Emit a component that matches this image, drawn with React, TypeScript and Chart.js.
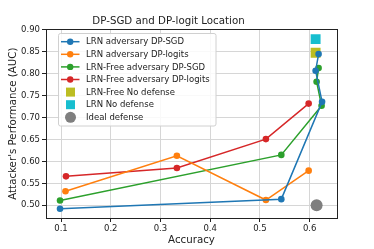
import React, { useEffect, useRef } from "react";
import { Chart, registerables } from "chart.js";

Chart.register(...registerables);

const lrnSgdX = [0.098, 0.543, 0.625, 0.612, 0.618];
const lrnSgdY = [0.492, 0.514, 0.736, 0.807, 0.845];
const lrnLogitsX = [0.109, 0.333, 0.512, 0.598];
const lrnLogitsY = [0.532, 0.613, 0.512, 0.579];
const freeSgdX = [0.098, 0.543, 0.624, 0.614, 0.618];
const freeSgdY = [0.511, 0.615, 0.727, 0.782, 0.813];
const freeLogitsX = [0.110, 0.333, 0.512, 0.598];
const freeLogitsY = [0.566, 0.585, 0.651, 0.732];
const freeNoDefX = [0.612];
const freeNoDefY = [0.848];
const lrnNoDefX = [0.612];
const lrnNoDefY = [0.879];
const idealX = [0.614];
const idealY = [0.5];

const xTicks = [0.1, 0.2, 0.3, 0.4, 0.5, 0.6];
const yTicks = [0.5, 0.55, 0.6, 0.65, 0.7, 0.75, 0.8, 0.85, 0.9];

const seriesNames = [
  "LRN adversary DP-SGD",
  "LRN adversary DP-logits",
  "LRN-Free adversary DP-SGD",
  "LRN-Free adversary DP-logits",
  "LRN-Free No defense",
  "LRN No defense",
  "Ideal defense",
];

const colors = ["#1f77b4", "#ff7f0e", "#2ca02c", "#d62728", "#bcbd22", "#17becf", "#7f7f7f"];

const FONT = "'DejaVu Sans', sans-serif";

const pts = (xs: number[], ys: number[]) => xs.map((x, i) => ({ x, y: ys[i] }));

const framePlugin = {
  id: "frame",
  afterDraw(chart: any) {
    const { ctx, chartArea: a } = chart;
    ctx.save();
    ctx.strokeStyle = "#222";
    ctx.lineWidth = 1;
    ctx.strokeRect(Math.round(a.left) + 0.5, Math.round(a.top) + 0.5, Math.round(a.right - a.left), Math.round(a.bottom - a.top));
    // legend
    const lx = 58.5, ly = 33.5, lw = 157.5, lh = 92.5;
    ctx.fillStyle = "rgba(255,255,255,0.85)";
    ctx.strokeStyle = "#d0d0d0";
    ctx.beginPath();
    ctx.roundRect(lx, ly, lw, lh, 2);
    ctx.fill();
    ctx.stroke();
    ctx.font = `8.5px ${FONT}`;
    ctx.textBaseline = "middle";
    ctx.textAlign = "left";
    seriesNames.forEach((name, i) => {
      const cy = 41.7 + i * 12.6;
      const c = colors[i];
      if (i < 4) {
        ctx.strokeStyle = c;
        ctx.lineWidth = 1.5;
        ctx.beginPath();
        ctx.moveTo(61, cy);
        ctx.lineTo(79.5, cy);
        ctx.stroke();
        ctx.fillStyle = c;
        ctx.beginPath();
        ctx.arc(70.2, cy, 3.2, 0, Math.PI * 2);
        ctx.fill();
      } else if (i < 6) {
        ctx.fillStyle = c;
        ctx.fillRect(66, cy - 4.5, 9, 9);
      } else {
        ctx.fillStyle = c;
        ctx.beginPath();
        ctx.arc(70.5, cy, 5.5, 0, Math.PI * 2);
        ctx.fill();
      }
      ctx.fillStyle = "#222";
      ctx.fillText(name, 86, cy + 0.5);
    });
    ctx.restore();
  },
};

export default function App() {
  const ref = useRef<HTMLCanvasElement>(null);
  useEffect(() => {
    if (!ref.current) return;
    const lineDs = (i: number, data: any[]) => ({
      label: seriesNames[i],
      data,
      showLine: true,
      borderColor: colors[i],
      backgroundColor: colors[i],
      borderWidth: 1.5,
      pointRadius: 3.3,
      pointBorderWidth: 0,
      pointStyle: "circle",
    });
    const chart = new Chart(ref.current, {
      type: "scatter",
      data: {
        datasets: [
          lineDs(0, pts(lrnSgdX, lrnSgdY)),
          lineDs(1, pts(lrnLogitsX, lrnLogitsY)),
          lineDs(2, pts(freeSgdX, freeSgdY)),
          lineDs(3, pts(freeLogitsX, freeLogitsY)),
          {
            label: seriesNames[4],
            data: pts(freeNoDefX, freeNoDefY),
            showLine: false,
            backgroundColor: colors[4],
            borderWidth: 0,
            pointStyle: "rect",
            pointRadius: 7,
          },
          {
            label: seriesNames[5],
            data: pts(lrnNoDefX, lrnNoDefY),
            showLine: false,
            backgroundColor: colors[5],
            borderWidth: 0,
            pointStyle: "rect",
            pointRadius: 7,
          },
          {
            label: seriesNames[6],
            data: pts(idealX, idealY),
            showLine: false,
            backgroundColor: colors[6],
            borderWidth: 0,
            pointStyle: "circle",
            pointRadius: 6,
          },
        ],
      } as any,
      options: {
        responsive: false,
        animation: false,
        layout: { padding: { left: 0, right: 37, top: 0, bottom: 0 } },
        plugins: {
          legend: { display: false },
          tooltip: { enabled: false },
          title: {
            display: true,
            text: "DP-SGD and DP-logit Location",
            color: "#222",
            font: { family: FONT, size: 10.25, weight: "normal" },
            padding: { top: 15, bottom: 2 },
          },
        },
        scales: {
          x: {
            type: "linear",
            min: 0.0698,
            max: 0.655,
            afterBuildTicks: (s: any) => {
              s.ticks = xTicks.map((v) => ({ value: v }));
            },
            afterFit: (s: any) => {
              s.height = 31;
            },
            ticks: {
              color: "#222",
              font: { family: FONT, size: 8.5 },
              padding: 2,
              maxRotation: 0,
              callback: (v: any) => Number(v).toFixed(1),
            },
            grid: { color: "#d6d6d6", lineWidth: 1, tickLength: 4, tickColor: "#222" },
            border: { display: false },
            title: {
              display: true,
              text: "Accuracy",
              color: "#222",
              font: { family: FONT, size: 10.25 },
              padding: { top: 0, bottom: 3 },
            },
          },
          y: {
            type: "linear",
            min: 0.471,
            max: 0.9015,
            afterBuildTicks: (s: any) => {
              s.ticks = yTicks.map((v) => ({ value: v }));
            },
            afterFit: (s: any) => {
              s.width = 46;
            },
            ticks: {
              color: "#222",
              font: { family: FONT, size: 8.5 },
              padding: 2,
              callback: (v: any) => Number(v).toFixed(2),
            },
            grid: { color: "#d6d6d6", lineWidth: 1, tickLength: 4, tickColor: "#222" },
            border: { display: false },
            title: {
              display: true,
              text: "Attacker's Performance (AUC)",
              color: "#222",
              font: { family: FONT, size: 10.25 },
              padding: { top: 7, bottom: 0 },
            },
          },
        },
      },
      plugins: [framePlugin],
    });
    return () => chart.destroy();
  }, []);
  return (
    <div style={{ position: "absolute", left: 0, top: 0, width: 374, height: 249, background: "#fff" }}>
      <canvas ref={ref} width={374} height={249} style={{ display: "block", width: 374, height: 249 }} />
    </div>
  );
}
